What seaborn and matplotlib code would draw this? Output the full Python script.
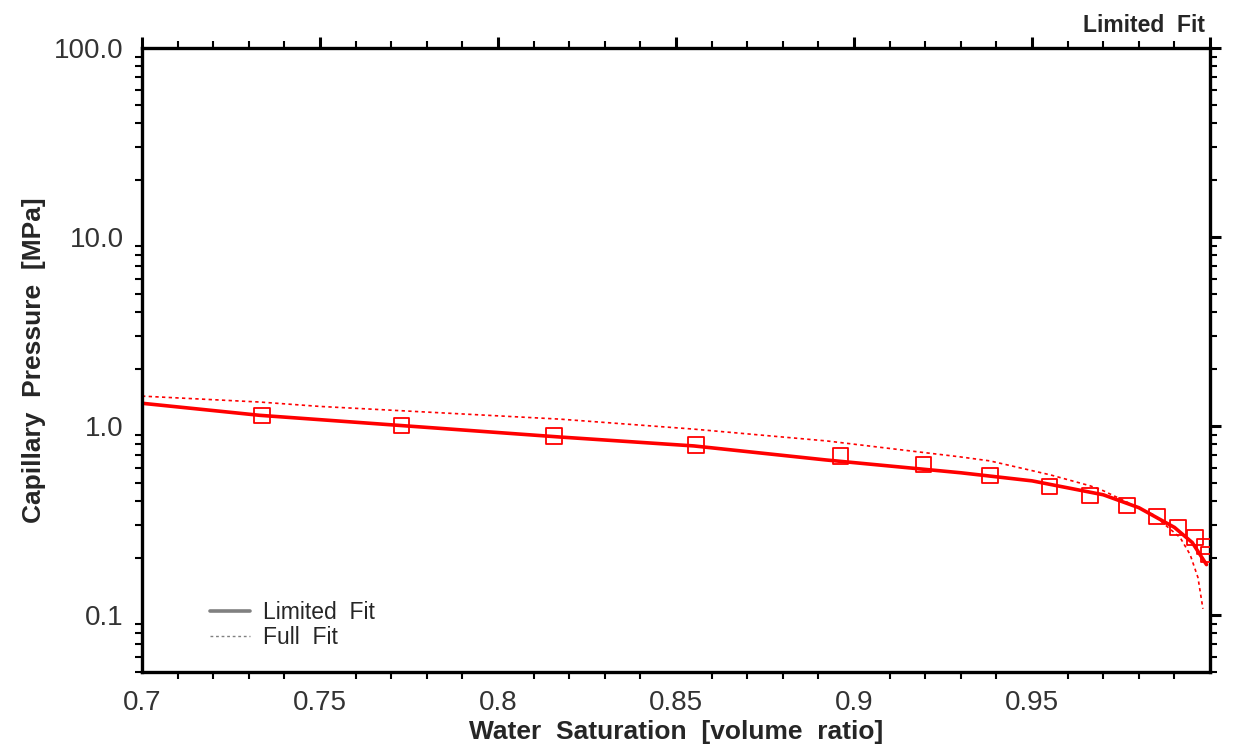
import matplotlib
matplotlib.use("Agg")
import matplotlib.pyplot as plt
import matplotlib.ticker as mticker
from matplotlib.lines import Line2D
import seaborn as sns
import pandas as pd

# Measured data points (squares)
sw_data = [0.7337, 0.7728, 0.8157, 0.8556, 0.8961, 0.9194, 0.9382, 0.9548, 0.9663,
           0.9767, 0.9851, 0.9910, 0.9958, 0.9985, 0.9995]
pc_data = [1.14, 1.01, 0.886, 0.794, 0.695, 0.624, 0.546, 0.477, 0.428,
           0.379, 0.332, 0.291, 0.257, 0.230, 0.210]

# Limited fit curve
sw_lim = [0.700, 0.733, 0.8174, 0.855, 0.892, 0.930, 0.950, 0.970, 0.980, 0.990, 0.995, 0.999]
pc_lim = [1.32, 1.14, 0.875, 0.785, 0.662, 0.566, 0.513, 0.433, 0.370, 0.291, 0.242, 0.185]

# Full fit curve
sw_full = [0.700, 0.733, 0.750, 0.8174, 0.8548, 0.8924, 0.9298, 0.9382, 0.9551, 0.9663,
           0.9700, 0.9840, 0.9916, 0.9944, 0.9966, 0.9980]
pc_full = [1.44, 1.34, 1.27, 1.088, 0.964, 0.834, 0.687, 0.654, 0.552, 0.483,
           0.455, 0.340, 0.257, 0.209, 0.158, 0.108]

x_ticks = [0.7, 0.75, 0.8, 0.85, 0.9, 0.95, 1.0]
x_tick_labels = ["0.7", "0.75", "0.8", "0.85", "0.9", "0.95", ""]
y_ticks = [0.1, 1.0, 10.0, 100.0]
y_tick_labels = ["0.1", "1.0", "10.0", "100.0"]

sns.set_theme(style="white")
plt.rcParams['font.family'] = ['Liberation Sans', 'DejaVu Sans']

fig = plt.figure(figsize=(12.35, 7.51), dpi=100)
ax = fig.add_axes([0.115, 0.1052, 0.8648, 0.8309])

df_data = pd.DataFrame({"sw": sw_data, "pc": pc_data})
df_lim = pd.DataFrame({"sw": sw_lim, "pc": pc_lim})
df_full = pd.DataFrame({"sw": sw_full, "pc": pc_full})

sns.lineplot(data=df_full, x="sw", y="pc", ax=ax, color="red", linewidth=1.2,
             linestyle=(0, (2, 2)), sort=False, estimator=None)
sns.lineplot(data=df_lim, x="sw", y="pc", ax=ax, color="red", linewidth=2.6,
             sort=False, estimator=None)
sns.scatterplot(data=df_data, x="sw", y="pc", ax=ax, marker="s", s=120,
                color="red", facecolor="none", edgecolor="red", linewidth=1.3, zorder=5)

ax.set_yscale("log")
ax.set_xlim(0.7, 1.0)
ax.set_ylim(0.05, 100)

ax.set_xticks(x_ticks)
ax.set_xticklabels(x_tick_labels)
ax.xaxis.set_minor_locator(mticker.MultipleLocator(0.01))
ax.set_yticks(y_ticks)
ax.set_yticklabels(y_tick_labels)
ax.yaxis.set_minor_locator(mticker.LogLocator(base=10, subs=range(2, 10)))
ax.yaxis.set_minor_formatter(mticker.NullFormatter())

ax.tick_params(which="major", direction="out", length=8, width=2.2, color="black",
               top=True, right=True, labelsize=20, labelcolor="#333333", pad=5)
ax.tick_params(which="minor", direction="out", length=5, width=1.5, color="black",
               top=True, right=True, bottom=True, left=True)
for sp in ax.spines.values():
    sp.set_visible(True)
    sp.set_linewidth(2.4)
    sp.set_color("black")

ax.set_xlabel("Water  Saturation  [volume  ratio]", fontsize=19, fontweight="bold",
              labelpad=3)
ax.set_ylabel("Capillary  Pressure  [MPa]", fontsize=19, fontweight="bold", labelpad=6)
ax.grid(False)

fig.text(0.976, 0.951, "Limited  Fit", ha="right", va="bottom", fontsize=16.5,
         fontweight="bold")

handles = [Line2D([0], [0], color="gray", linewidth=2.6),
           Line2D([0], [0], color="gray", linewidth=1.0, linestyle=(0, (2, 2)))]
ax.legend(handles, ["Limited  Fit", "Full  Fit"], loc="lower left",
          bbox_to_anchor=(0.053, 0.018), frameon=False, fontsize=16.5,
          handlelength=1.75, handletextpad=0.57, labelspacing=0.1, borderpad=0)

fig.savefig("out.png", dpi=100, facecolor="white")
